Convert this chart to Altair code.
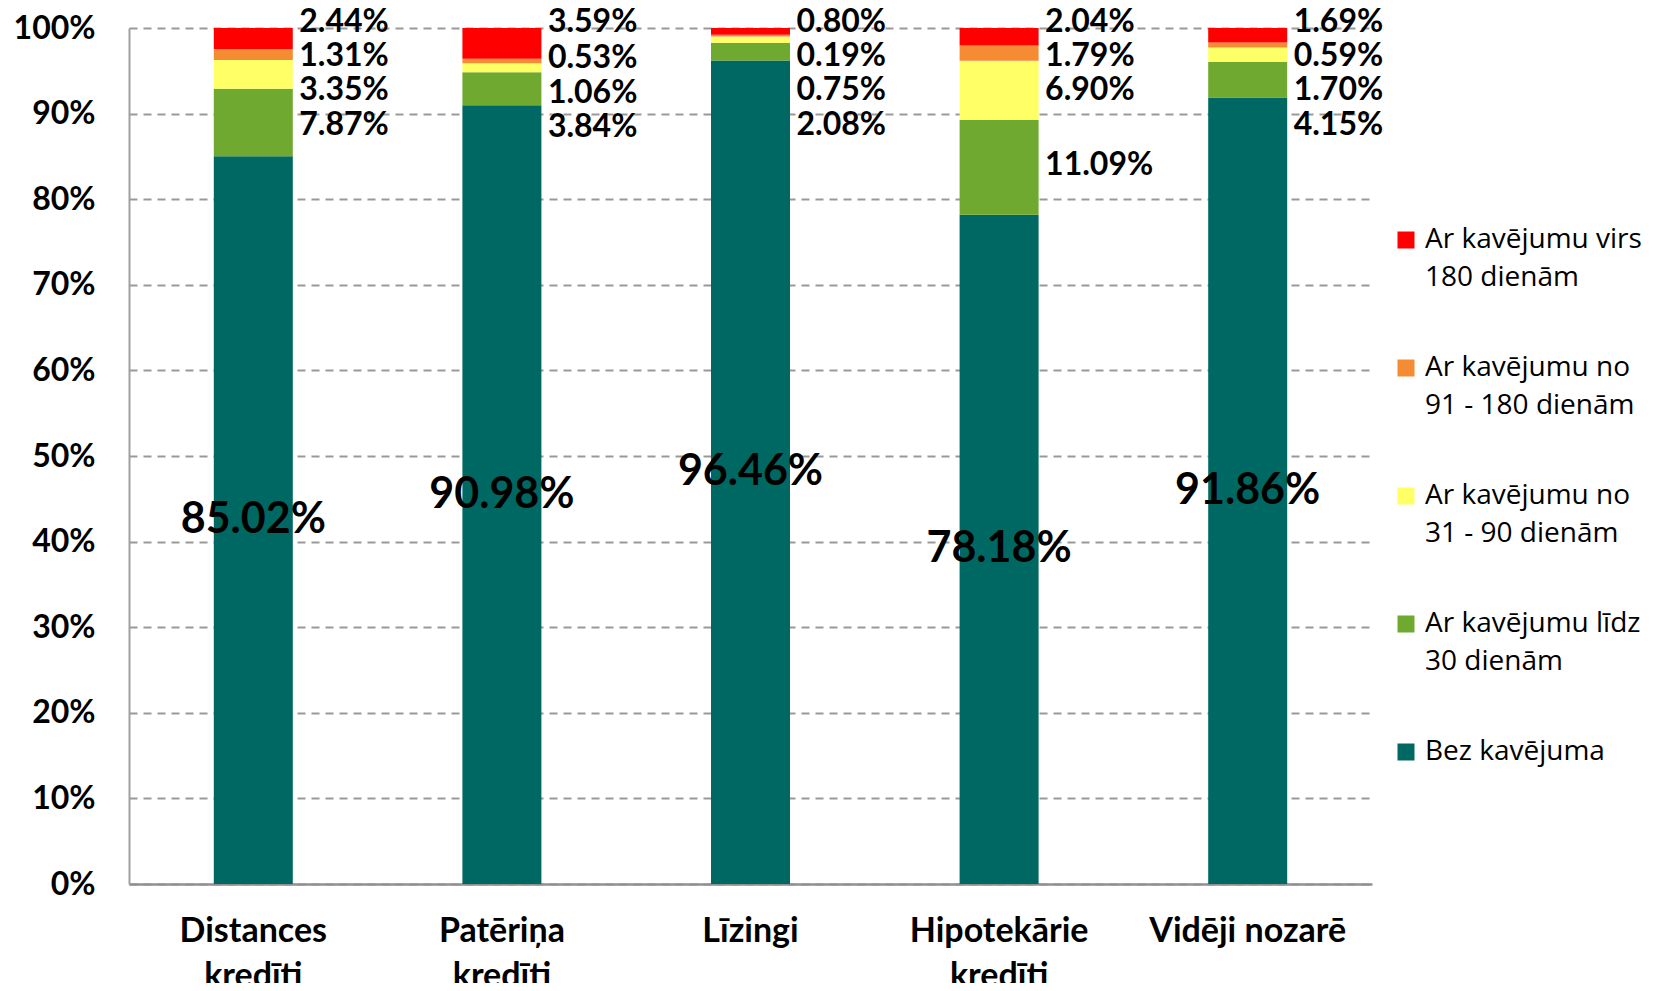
import altair as alt
import pandas as pd

categories = ["Distances\nkredīti", "Patēriņa\nkredīti", "Līzingi", "Hipotekārie\nkredīti", "Vidēji nozarē"]
# series from bottom of the stack to top
series = [
    "Bez kavējuma",
    "Ar kavējumu līdz\n30 dienām",
    "Ar kavējumu no\n31 - 90 dienām",
    "Ar kavējumu no\n91 - 180 dienām",
    "Ar kavējumu virs\n180 dienām",
]
bez = [85.02, 90.98, 96.46, 78.18, 91.86]
lidz_30 = [7.87, 3.84, 2.08, 11.09, 4.15]
no_31_90 = [3.35, 1.06, 0.75, 6.90, 1.70]
no_91_180 = [1.31, 0.53, 0.19, 1.79, 0.59]
virs_180 = [2.44, 3.59, 0.80, 2.04, 1.69]
colors = ["#006862", "#6fa92f", "#ffff66", "#f58b33", "#ff0000"]

values = [bez, lidz_30, no_31_90, no_91_180, virs_180]

bar_rows, small_rows, big_rows = [], [], []
for i, cat in enumerate(categories):
    vals = [v[i] for v in values]
    total = sum(vals)
    cum = 0.0
    segs = []
    for s, v in zip(series, vals):
        y0 = cum / total * 100
        cum += v
        y1 = cum / total * 100
        segs.append((s, v, y0, y1))
        bar_rows.append({"cat": cat, "series": s, "y0": y0, "y1": y1})
    # big label for the bottom segment
    s, v, y0, y1 = segs[0]
    big_rows.append({"cat": cat, "y": (y0 + y1) / 2, "txt": f"{v:.2f}%"})
    # small labels: stacked downward from the top of the bar, at least 4 points apart
    top = segs[-1][3] + 0.7
    prev = None
    for k, (s, v, y0, y1) in enumerate(reversed(segs[1:])):
        mid = (y0 + y1) / 2
        ly = top if k == 0 else min(top - 4.0 * k, mid + 0.3, prev - 4.0)
        prev = ly
        small_rows.append({"cat": cat, "y": ly, "txt": f"{v:.2f}%"})

bars_df = pd.DataFrame(bar_rows)
small_df = pd.DataFrame(small_rows)
big_df = pd.DataFrame(big_rows)

legend_order = list(reversed(series))
legend_colors = list(reversed(colors))

x_enc = alt.X(
    "cat:N",
    sort=categories,
    scale=alt.Scale(paddingInner=0, paddingOuter=0),
    axis=alt.Axis(
        title=None,
        labelAngle=0,
        labelExpr="split(datum.label, '\\n')",
        labelFont="Lato",
        labelFontWeight="bold",
        labelFontSize=34,
        labelLineHeight=45,
        labelLimit=400,
        labelColor="#000000",
        labelPadding=30,
        ticks=False,
        domainColor="#909090",
        domainWidth=2.5,
        grid=False,
    ),
)

y_scale = alt.Scale(domain=[0, 100])

bars = alt.Chart(bars_df).mark_bar(size=79).encode(
    x=x_enc,
    y=alt.Y(
        "y0:Q",
        scale=y_scale,
        axis=alt.Axis(
            title=None,
            values=list(range(0, 101, 10)),
            labelExpr="datum.value + '%'",
            labelFont="Lato",
            labelFontWeight="bold",
            labelFontSize=32,
            labelColor="#000000",
            labelPadding=34,
            ticks=False,
            domainColor="#a0a0a0",
            domainWidth=2,
            gridColor="#999999",
            gridDash=[8, 6],
            gridWidth=2,
        ),
    ),
    y2="y1:Q",
    color=alt.Color(
        "series:N",
        scale=alt.Scale(domain=legend_order, range=legend_colors),
        legend=alt.Legend(
            title=None,
            orient="none",
            legendX=1263,
            legendY=198,
            symbolType="square",
            symbolSize=289,
            symbolStrokeWidth=0,
            labelFont="Open Sans",
            labelFontSize=28,
            labelColor="#000000",
            labelOffset=5,
            labelLimit=400,
            labelExpr="split(datum.label, '\\n')",
            rowPadding=62,
        ),
    ),
)

small = alt.Chart(small_df).mark_text(
    align="left", baseline="middle", dx=46, font="Lato", fontWeight="bold", fontSize=32, color="#000000"
).encode(x=alt.X("cat:N", sort=categories), y=alt.Y("y:Q", scale=y_scale), text="txt:N")

big = alt.Chart(big_df).mark_text(
    align="center", baseline="middle", font="Lato", fontWeight="bold", fontSize=43, color="#000000"
).encode(x=alt.X("cat:N", sort=categories), y=alt.Y("y:Q", scale=y_scale), text="txt:N")

chart = (
    alt.layer(bars, small, big)
    .properties(
        width=1243,
        height=856,
        autosize=alt.AutoSizeParams(type="none"),
        padding={"left": 121, "top": 20, "right": 277, "bottom": 99},
        background="#ffffff",
    )
    .configure(style={"guide-label": {"lineHeight": {"expr": "indexof(datum.label, 'dien') >= 0 ? 38 : 45"}}})
    .configure_view(strokeWidth=0)
)

chart.save("out.html", embed_options={"renderer": "svg", "actions": False})
